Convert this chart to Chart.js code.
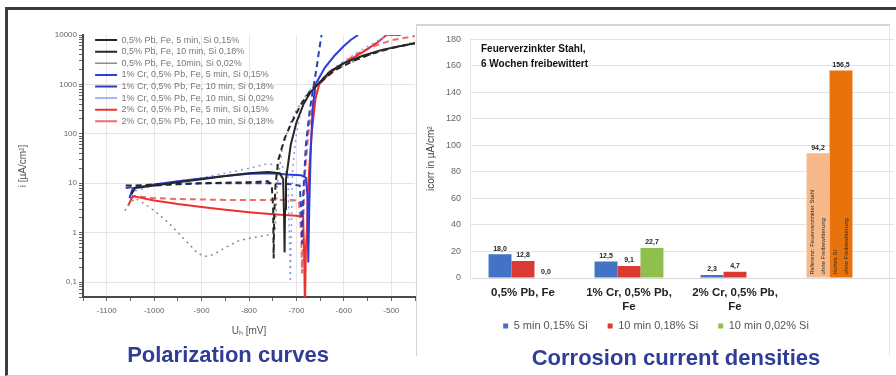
<!DOCTYPE html>
<html>
<head>
<meta charset="utf-8">
<script src="https://cdn.jsdelivr.net/npm/chart.js@4.4.0/dist/chart.umd.min.js"></script>
<style>
html,body{margin:0;padding:0;background:#fff;}
#wrap{position:relative;width:896px;height:376px;overflow:hidden;background:#fff;font-family:"Liberation Sans",Arial,sans-serif;}
#frame{position:absolute;left:5px;top:7px;width:900px;height:365px;border-left:3px solid #3c3c3c;border-top:3px solid #3c3c3c;border-bottom:1px solid #cfcfcf;}
#panel{position:absolute;left:416px;top:24px;width:472px;height:330px;border-left:1px solid #d4d4d4;border-top:2px solid #d4d4d4;border-right:1px solid #e4e4e4;}
#c1{position:absolute;left:0;top:0;}
#c2{position:absolute;left:418px;top:25px;}
.cap{position:absolute;color:#2f3d96;font-weight:bold;font-size:22px;line-height:25px;text-align:center;white-space:nowrap;}
</style>
</head>
<body>
<div id="wrap">
  <div id="frame"></div>
  <div id="panel"></div>
  <canvas id="c1" width="420" height="345"></canvas>
  <canvas id="c2" width="478" height="320"></canvas>
  <div class="cap" id="cap1" style="left:78px;width:300px;top:342px;">Polarization curves</div>
  <div class="cap" id="cap2" style="left:526px;width:300px;top:345px;">Corrosion current densities</div>
</div>
<script>
// ---------------- Polarization curves: points [U_H (mV), i (µA/cm²)] ----------------
const pb05_5min_si015 = [[-1048,6],[-1040,8],[-1000,9],[-950,10.5],[-900,12],[-850,14],[-800,16],[-760,17],[-735,16],[-728,12],[-726,2],[-725,0.4],[-724,3],[-722,12],[-712,60],[-700,170],[-685,400],[-670,700],[-655,1000],[-630,1800],[-600,2700],[-560,3800],[-520,5000],[-480,6000],[-450,6800]];
const pb05_10min_si018 = [[-1060,9],[-1040,9],[-1000,9.5],[-900,10],[-800,10.5],[-760,11],[-752,9],[-749,3],[-748,0.3],[-747,2],[-744,10],[-738,30],[-725,80],[-710,170],[-690,400],[-670,750],[-655,1000],[-620,1900],[-580,3000],[-540,4200],[-500,5400],[-450,6800]];
const pb05_10min_si002 = [[-1062,2.8],[-1050,4],[-1040,5],[-1020,3.8],[-1000,2.8],[-970,1.6],[-940,0.8],[-910,0.4],[-895,0.33],[-875,0.36],[-850,0.5],[-820,0.7],[-790,0.8],[-760,0.9],[-745,1.0],[-740,10],[-730,50],[-715,150],[-700,300],[-680,600],[-660,1000],[-620,2000],[-560,3500],[-500,5500],[-450,7200]];
const cr1_5min_si015 = [[-1052,5],[-1045,8],[-1000,9.5],[-950,11],[-900,12.5],[-850,14],[-800,15.5],[-750,16],[-720,15],[-690,14.5],[-680,13],[-677,6],[-675,0.25],[-673,3],[-670,40],[-666,300],[-660,1000],[-640,2200],[-620,3800],[-600,6000],[-585,8000],[-570,10000]];
const cr1_10min_si018 = [[-1060,8],[-1040,8.5],[-1000,9],[-950,9.5],[-900,10],[-850,10],[-800,10],[-750,10],[-710,9.5],[-693,9],[-690,3],[-688,0.6],[-686,5],[-680,60],[-672,300],[-664,900],[-658,2000],[-652,5000],[-647,10000]];
const cr1_10min_si002 = [[-1040,7],[-1000,9],[-950,11],[-900,13],[-850,16],[-800,20],[-760,25],[-730,22],[-718,15],[-715,1],[-713,0.1],[-711,1],[-708,20],[-700,100],[-690,300],[-675,700],[-662,1000],[-620,2200],[-570,4500],[-530,7500],[-505,10000],[-470,10000]];
const cr2_5min_si015 = [[-1055,3.5],[-1045,5.5],[-1000,4.5],[-950,3.8],[-900,3.3],[-850,2.9],[-800,2.6],[-750,2.35],[-700,2.2],[-686,2.1],[-684,0.5],[-682,0.03],[-680,0.5],[-678,1],[-675,10],[-668,100],[-660,500],[-652,1000],[-630,1700],[-600,2700],[-560,4500],[-530,7000],[-510,10000],[-480,10000]];
const cr2_10min_si018 = [[-1050,5],[-1040,5.5],[-1000,5],[-950,4.8],[-900,4.7],[-850,4.6],[-800,4.6],[-750,4.6],[-710,4.6],[-695,4.4],[-690,1],[-688,0.15],[-686,1.5],[-682,15],[-675,100],[-665,500],[-655,1000],[-620,2000],[-580,3800],[-540,5800],[-500,7800],[-450,9500]];

const polSeriesNames = [
  '0,5% Pb, Fe, 5 min, Si 0,15%',
  '0,5% Pb, Fe, 10 min, Si 0,18%',
  '0,5% Pb, Fe, 10min, Si 0,02%',
  '1% Cr, 0,5% Pb, Fe, 5 min, Si 0,15%',
  '1% Cr, 0,5% Pb, Fe, 10 min, Si 0,18%',
  '1% Cr, 0,5% Pb, Fe, 10 min, Si 0,02%',
  '2% Cr, 0,5% Pb, Fe, 5 min, Si 0,15%',
  '2% Cr, 0,5% Pb, Fe, 10 min, Si 0,18%'
];
const polDecades = [0.1, 1, 10, 100, 1000, 10000];

// ---------------- Corrosion current densities ----------------
const barCategories = [['0,5% Pb, Fe'], ['1% Cr, 0,5% Pb,', 'Fe'], ['2% Cr, 0,5% Pb,', 'Fe'], ''];
const series5min015 = [18.0, 12.5, 2.3];
const series10min018 = [12.8, 9.1, 4.7];
const series10min002 = [0.0, 22.7, null];
const referenceBars = [94.2, 156.5];
const barSeriesNames = ['5 min 0,15% Si', '10 min 0,18% Si', '10 min 0,02% Si'];
const referenceNotes = [['Referenz: Feuerverzinkter Stahl', 'ohne Freibewitterung'], ['Hohes Si', 'ohne Freibewitterung']];
const chartNote = ['Feuerverzinkter Stahl,', '6 Wochen freibewittert'];

const FONT = '"Liberation Sans", Arial, sans-serif';
Chart.defaults.font.family = FONT;
Chart.defaults.animation = false;

// ---------- left chart ----------
const polSeries = [pb05_5min_si015, pb05_10min_si018, pb05_10min_si002, cr1_5min_si015, cr1_10min_si018, cr1_10min_si002, cr2_5min_si015, cr2_10min_si018];
const polStyles = [
  {c:'#262626', w:2, d:[]},
  {c:'#262626', w:2, d:[6,4]},
  {c:'#8c8c8c', w:1.5, d:[2,4]},
  {c:'#2a3fd6', w:2, d:[]},
  {c:'#2a3fc0', w:2, d:[6,4]},
  {c:'#8a9af0', w:1.5, d:[2,4]},
  {c:'#ee3030', w:2, d:[]},
  {c:'#ee6a6a', w:2, d:[6,4]}
];
const isDecade = v => Math.abs(Math.log10(v) - Math.round(Math.log10(v))) < 1e-6;

const legendInArea = {
  id: 'legendInArea',
  afterLayout(chart) {
    const L = chart.legend, a = chart.chartArea;
    if (!L) return;
    L.left = a.left + 9.5;
    L.top = a.top - 2;
    L.bottom = a.bottom;
    L.right = a.right;
  }
};

new Chart(document.getElementById('c1'), {
  type: 'line',
  data: {
    datasets: polSeries.map((pts, k) => ({
      label: polSeriesNames[k],
      data: pts.map(([u, i]) => ({x: u, y: i})),
      borderColor: polStyles[k].c,
      backgroundColor: polStyles[k].c,
      borderWidth: polStyles[k].w,
      borderDash: polStyles[k].d,
      pointRadius: 0,
      tension: 0,
      fill: false
    }))
  },
  options: {
    responsive: false,
    animation: false,
    layout: {padding: {top: 35, right: 5, left: 0, bottom: 0}},
    plugins: {
      legend: {
        position: 'chartArea',
        align: 'start',
        labels: {
          usePointStyle: true,
          pointStyle: 'line',
          pointStyleWidth: 22,
          font: {size: 9},
          color: '#777',
          padding: 2.6
        }
      },
      tooltip: {enabled: false}
    },
    scales: {
      x: {
        type: 'linear',
        min: -1150, max: -450,
        afterFit: s => { s.height = 48; },
        ticks: {
          stepSize: 50,
          autoSkip: false,
          maxRotation: 0,
          font: {size: 8},
          color: '#666',
          padding: 5,
          callback: v => (v % 100 === 0 ? String(v) : '')
        },
        grid: {
          color: c => (c.tick && c.tick.value % 100 === 0 && c.tick.value > -1150 && c.tick.value < -450) ? '#e6e6e6' : 'rgba(0,0,0,0)',
          tickColor: '#666',
          tickLength: 4
        },
        border: {display: true, color: '#4a4a4a', width: 2},
        title: {display: true, text: 'Uₕ [mV]', font: {size: 10}, color: '#555', padding: {top: 0, bottom: 8}}
      },
      y: {
        type: 'logarithmic',
        min: 0.05, max: 10000,
        afterFit: s => { s.width = 83; },
        afterBuildTicks: s => {
          const t = [];
          [0.01, 0.1, 1, 10, 100, 1000].forEach(d => {
            for (let k = 1; k < 10; k++) {
              const v = +(d * k).toPrecision(3);
              if (v >= 0.05 && v < 10000) t.push({value: v});
            }
          });
          t.push({value: 10000});
          s.ticks = t;
        },
        ticks: {
          autoSkip: false,
          font: {size: 8},
          color: '#666',
          padding: 2,
          callback: v => (polDecades.some(d => Math.abs(d - v) < 1e-9) ? String(v).replace('.', ',') : '')
        },
        grid: {
          color: c => (c.tick && isDecade(c.tick.value) && c.tick.value < 10000) ? '#e4e4e4' : 'rgba(0,0,0,0)',
          tickColor: '#666',
          tickLength: 4
        },
        border: {display: true, color: '#4a4a4a', width: 2},
        title: {display: true, text: 'i [µA/cm²]', font: {size: 10}, color: '#555', padding: {top: 17, bottom: 0}}
      }
    }
  },
  plugins: [legendInArea]
});

// ---------- right chart ----------
const fmt = v => v.toFixed(1).replace('.', ',');
const barColors = ['#4473c5', '#d93a33', '#8fc04e'];
const refColors = ['#f7b98a', '#e8730c'];

const barLabels = {
  id: 'barLabels',
  afterLayout(chart) {
    const L = chart.legend;
    if (L) { const h = L.bottom - L.top; L.top = chart.chartArea.bottom + 22.5; L.bottom = L.top + h; }
  },
  afterDatasetsDraw(chart) {
    const ctx = chart.ctx;
    ctx.save();
    chart.data.datasets.forEach((ds, di) => {
      const meta = chart.getDatasetMeta(di);
      meta.data.forEach((el, i) => {
        const v = ds.data[i];
        if (v === null || v === undefined) return;
        ctx.font = 'bold 7px ' + FONT;
        ctx.fillStyle = '#1e1e1e';
        ctx.textAlign = 'center';
        ctx.textBaseline = 'bottom';
        ctx.fillText(fmt(v), el.x, el.y - 2);
        if (i === 3 && referenceNotes[di]) {
          ctx.save();
          ctx.translate(el.x, el.base - 3);
          ctx.rotate(-Math.PI / 2);
          ctx.font = '6px ' + FONT;
          ctx.fillStyle = '#2a2a2a';
          ctx.textAlign = 'left';
          ctx.textBaseline = 'middle';
          ctx.fillText(referenceNotes[di][0], 0, -5.5);
          ctx.fillText(referenceNotes[di][1], 0, 5.5);
          ctx.restore();
        }
      });
    });
    const a = chart.chartArea;
    ctx.font = 'bold 10px ' + FONT;
    ctx.fillStyle = '#111';
    ctx.textAlign = 'left';
    ctx.textBaseline = 'middle';
    ctx.fillText(chartNote[0], a.left + 11, a.top + 10);
    ctx.fillText(chartNote[1], a.left + 11, a.top + 25);
    ctx.restore();
  }
};

new Chart(document.getElementById('c2'), {
  type: 'bar',
  data: {
    labels: barCategories,
    datasets: [
      {label: barSeriesNames[0], data: [...series5min015, referenceBars[0]],
       backgroundColor: c => (c.dataIndex === 3 ? refColors[0] : barColors[0])},
      {label: barSeriesNames[1], data: [...series10min018, referenceBars[1]],
       backgroundColor: c => (c.dataIndex === 3 ? refColors[1] : barColors[1])},
      {label: barSeriesNames[2], data: [...series10min002, null],
       backgroundColor: barColors[2]}
    ]
  },
  options: {
    responsive: false,
    animation: false,
    layout: {padding: {top: 10, right: 2, left: 0, bottom: 0}},
    datasets: {bar: {categoryPercentage: 0.65, barPercentage: 1.0, borderWidth: 0}},
    plugins: {
      legend: {
        position: 'bottom',
        maxHeight: 30,
        labels: {boxWidth: 5, boxHeight: 5, font: {size: 11}, color: '#555', padding: 20}
      },
      tooltip: {enabled: false}
    },
    scales: {
      x: {
        afterFit: s => { s.height = 37; },
        grid: {display: false, drawTicks: false},
        border: {display: true, color: '#d9d9d9'},
        ticks: {autoSkip: false, maxRotation: 0, padding: 8, color: '#222',
                font: {size: 11.5, weight: 'bold', lineHeight: 1.22}}
      },
      y: {
        min: 0, max: 180,
        afterFit: s => { s.width = 52; },
        ticks: {stepSize: 20, font: {size: 9}, color: '#666', padding: 9},
        grid: {color: '#e2e2e2', drawTicks: false},
        border: {display: true, color: '#e6e6e6'},
        title: {display: true, text: 'icorr in µA/cm²', font: {size: 10}, color: '#444', padding: {top: 7, bottom: 0}}
      }
    }
  },
  plugins: [barLabels]
});
</script>
</body>
</html>
